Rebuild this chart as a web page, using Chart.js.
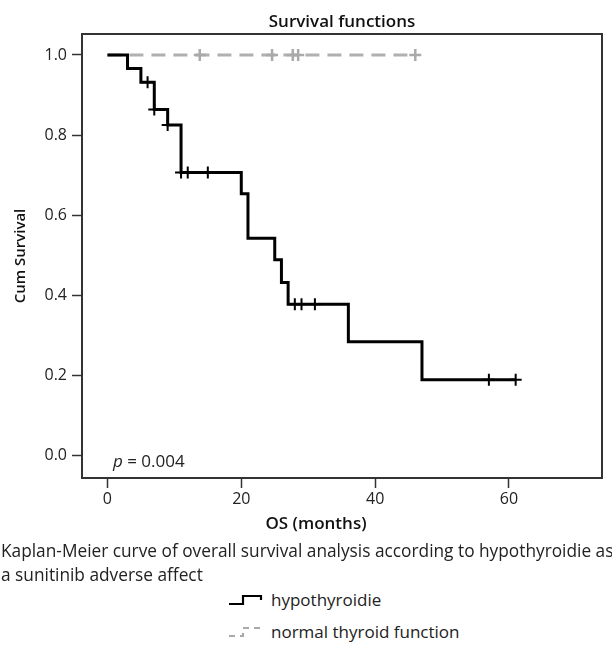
<!DOCTYPE html>
<html><head><meta charset="utf-8">
<script src="https://cdn.jsdelivr.net/npm/chart.js@4.4.1/dist/chart.umd.min.js"></script>
<style>
html,body{margin:0;padding:0;background:#fff;width:612px;height:652px;overflow:hidden;font-family:"Open Sans",sans-serif;}
#wrap{position:absolute;left:0;top:0;width:612px;height:540px;}
#caption{position:absolute;left:1px;top:539px;width:760px;font-size:17.3px;line-height:24px;color:#222;white-space:nowrap;}
.leg{position:absolute;left:228px;height:20px;font-size:17px;line-height:20px;color:#222;}
.leg svg{position:absolute;left:0;top:2px;}
.leg span{position:absolute;left:43px;top:0;white-space:nowrap;}
</style></head>
<body>
<div id="wrap"><canvas id="c" width="612" height="540"></canvas></div>
<div id="caption">Kaplan-Meier curve of overall survival analysis according to hypothyroidie as<br>a sunitinib adverse affect</div>
<div class="leg" style="top:590px;"><svg width="38" height="16"><polyline points="1,12 15,12 15,4 33,4 33,8" fill="none" stroke="#000" stroke-width="2.2"/></svg><span>hypothyroidie</span></div>
<div class="leg" style="top:622px;"><svg width="38" height="16"><polyline points="1,12 15,12 15,4 33,4 33,8" fill="none" stroke="#aaa" stroke-width="2.2" stroke-dasharray="6,5"/></svg><span>normal thyroid function</span></div>
<script>
const hypoTimes = [0, 3, 5, 7, 9, 11, 20, 21, 25, 26, 27, 36, 47, 61];
const hypoSurv  = [1.0, 0.966, 0.932, 0.864, 0.825, 0.706, 0.653, 0.542, 0.488, 0.431, 0.377, 0.283, 0.188, 0.188];
const hypoCensorTimes = [6, 7, 9, 11, 12, 15, 28, 29, 31, 57, 61];
const normalTimes = [0, 46];
const normalSurv  = [1.0, 1.0];
const normalCensorTimes = [13.8, 24.6, 27.7, 28.5, 46];
const xTicks = [0, 20, 40, 60];
const xTickLabels = ['0', '20', '40', '60'];
const yTicks = [0.0, 0.2, 0.4, 0.6, 0.8, 1.0];
const yTickLabels = ['0.0', '0.2', '0.4', '0.6', '0.8', '1.0'];

const FONT = '"Open Sans", sans-serif';

function survAt(times, surv, t) {
  let v = surv[0];
  for (let i = 0; i < times.length; i++) if (times[i] <= t) v = surv[i];
  return v;
}
const pts = (ts, ss) => ts.map((t, i) => ({x: t, y: ss[i]}));
const cens = (cts, ts, ss) => cts.map(t => ({x: t, y: survAt(ts, ss, t)}));

const decor = {
  id: 'decor',
  afterDraw(chart) {
    const {ctx, chartArea: a} = chart;
    ctx.save();
    ctx.strokeStyle = '#333';
    ctx.lineWidth = 2;
    ctx.strokeRect(a.left, a.top, a.right - a.left, a.bottom - a.top);
    ctx.fillStyle = '#111';
    ctx.textAlign = 'center';
    ctx.textBaseline = 'alphabetic';
    ctx.font = '600 17px ' + FONT;
    ctx.fillText('Survival functions', (a.left + a.right) / 2, 27);
    ctx.textBaseline = 'middle';
    ctx.fillText('OS (months)', 316, 524);
    ctx.textAlign = 'left';
    ctx.textBaseline = 'alphabetic';
    ctx.fillStyle = '#222';
    ctx.font = 'italic 17px ' + FONT;
    ctx.fillText('p', 113, 467);
    const w = ctx.measureText('p').width;
    ctx.font = '17px ' + FONT;
    ctx.fillText(' = 0.004', 113 + w, 467);
    ctx.restore();
  }
};

new Chart(document.getElementById('c'), {
  type: 'scatter',
  data: {
    datasets: [
      {data: cens(hypoCensorTimes, hypoTimes, hypoSurv), showLine: false, pointStyle: 'cross', pointRadius: 6, pointHoverRadius: 6, pointBorderWidth: 2, pointBorderColor: '#000', borderColor: '#000'},
      {data: pts(hypoTimes, hypoSurv), showLine: true, stepped: true, borderColor: '#000', borderWidth: 3, pointRadius: 0, borderJoinStyle: 'miter', borderCapStyle: 'butt', fill: false},
      {data: cens(normalCensorTimes, normalTimes, normalSurv), showLine: false, pointStyle: 'cross', pointRadius: 6, pointHoverRadius: 6, pointBorderWidth: 2.5, pointBorderColor: '#aaa', borderColor: '#aaa'},
      {data: pts(normalTimes, normalSurv), showLine: true, stepped: true, borderColor: '#b0b0b0', borderWidth: 3, borderDash: [14, 8], pointRadius: 0, borderCapStyle: 'butt', fill: false}
    ]
  },
  options: {
    responsive: false,
    animation: false,
    events: [],
    layout: {padding: {top: 34, right: 10, left: 0, bottom: 0}},
    plugins: {legend: {display: false}, tooltip: {enabled: false}, title: {display: false}},
    scales: {
      x: {
        type: 'linear', min: -3.8, max: 73.9,
        afterBuildTicks: s => { s.ticks = xTicks.map(v => ({value: v})); },
        afterFit: s => { s.height = 62; },
        ticks: {autoSkip: false, maxRotation: 0, padding: 2, color: '#222', font: {family: FONT, size: 16}, callback: (v, i) => xTickLabels[i]},
        grid: {drawOnChartArea: false, drawTicks: true, tickLength: 10, tickColor: '#333', tickWidth: 1.5},
        border: {display: false}
      },
      y: {
        type: 'linear', min: -0.0575, max: 1.0525,
        afterBuildTicks: s => { s.ticks = yTicks.map(v => ({value: v})); },
        afterFit: s => { s.width = 82; },
        ticks: {autoSkip: false, padding: 5, color: '#222', font: {family: FONT, size: 16}, callback: (v, i) => yTickLabels[i]},
        grid: {drawOnChartArea: false, drawTicks: true, tickLength: 10, tickColor: '#333', tickWidth: 1.5},
        border: {display: false},
        title: {display: true, text: 'Cum Survival', color: '#111', font: {family: FONT, size: 15, weight: '600'}, padding: {top: 12, bottom: 0}}
      }
    }
  },
  plugins: [decor]
});
</script>
</body></html>
